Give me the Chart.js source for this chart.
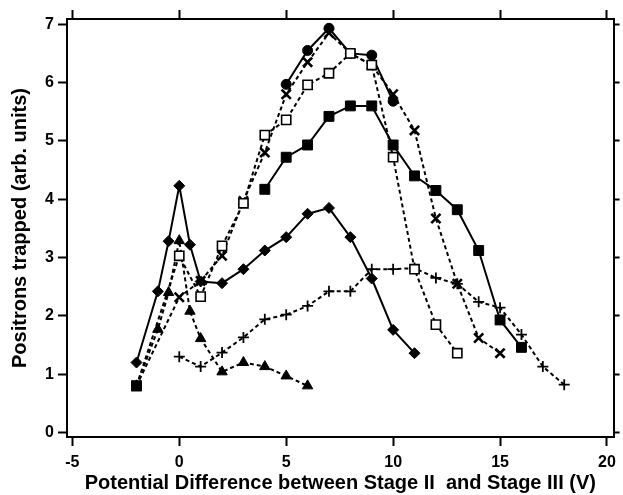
<!DOCTYPE html>
<html>
<head>
<meta charset="utf-8">
<script src="https://cdn.jsdelivr.net/npm/chart.js@4.4.0/dist/chart.umd.min.js"></script>
<style>
  html, body { margin: 0; padding: 0; background: #ffffff; }
  canvas { display: block; }
</style>
</head>
<body>
<canvas id="chart" width="623" height="495"></canvas>
<script>
// Axis ticks and titles
const xTickValues = [-5, 0, 5, 10, 15, 20];
const yTickValues = [0, 1, 2, 3, 4, 5, 6, 7];
const xTitle = 'Potential Difference between Stage II  and Stage III (V)';
const yTitle = 'Positrons trapped (arb. units)';

// Filled diamonds, solid line
const diamondX = [-2, -1, -0.5, 0, 0.5, 1, 2, 3, 4, 5, 6, 7, 8, 9, 10, 11];
const diamondY = [1.2, 2.42, 3.28, 4.23, 3.22, 2.59, 2.56, 2.8, 3.12, 3.35, 3.75, 3.85, 3.35, 2.64, 1.76, 1.36];

// Filled circles, solid line
const circleX = [5, 6, 7, 8, 9, 10];
const circleY = [5.97, 6.55, 6.93, 6.5, 6.47, 5.68];

// Filled squares, solid line (first point stands apart from the rest)
const filledSquareX = [-2, 4, 5, 6, 7, 8, 9, 10, 11, 12, 13, 14, 15, 16];
const filledSquareY = [0.8, 4.17, 4.72, 4.93, 5.42, 5.6, 5.6, 4.93, 4.4, 4.15, 3.82, 3.12, 1.93, 1.46];

// Open squares, dotted line
const openSquareX = [-2, 0, 1, 2, 3, 4, 5, 6, 7, 8, 9, 10, 11, 12, 13];
const openSquareY = [0.8, 3.03, 2.33, 3.2, 3.93, 5.1, 5.36, 5.96, 6.16, 6.5, 6.3, 4.72, 2.8, 1.85, 1.36];

// Crosses, dotted line
const crossX = [-2, 0, 1, 2, 3, 4, 5, 6, 7, 8, 9, 10, 11, 12, 13, 14, 15];
const crossY = [0.8, 2.32, 2.6, 3.03, 3.97, 4.8, 5.8, 6.35, 6.85, 6.5, 6.3, 5.8, 5.18, 3.67, 2.55, 1.62, 1.36];

// Plus signs, dotted line
const plusX = [0, 1, 2, 3, 4, 5, 6, 7, 8, 9, 10, 11, 12, 13, 14, 15, 16, 17, 18];
const plusY = [1.3, 1.13, 1.37, 1.63, 1.94, 2.02, 2.17, 2.42, 2.42, 2.8, 2.8, 2.82, 2.65, 2.55, 2.24, 2.14, 1.68, 1.13, 0.82];

// Filled triangles, dotted line
const triangleX = [-2, -1, -0.5, 0, 0.5, 1, 2, 3, 4, 5, 6];
const triangleY = [0.8, 1.77, 2.4, 3.29, 2.08, 1.61, 1.04, 1.2, 1.13, 0.97, 0.8];

const INK = '#000000';
const DOTS = [4, 3];

function toPoints(xs, ys) {
  return xs.map((x, i) => ({ x: x, y: ys[i] }));
}

function series(xs, ys, style) {
  return Object.assign({
    data: toPoints(xs, ys),
    showLine: true,
    borderColor: INK,
    borderWidth: 2,
    pointBorderColor: INK,
    pointBackgroundColor: INK,
    pointBorderWidth: 1,
    pointHoverRadius: 0,
    fill: false,
    tension: 0
  }, style);
}

const fixedTicks = values => scale => {
  scale.ticks = values.map(v => ({ value: v }));
};

const tickFont = { family: "'Liberation Sans', Arial, Helvetica, sans-serif", size: 16, weight: 'bold' };
const titleFont = { family: "'Liberation Sans', Arial, Helvetica, sans-serif", size: 20, weight: 'bold' };

const xRange = { min: -5.25, max: 20.31 };
const yRange = { min: -0.077, max: 7.09 };

const frameGrid = len => ({
  drawOnChartArea: false,
  drawTicks: true,
  tickLength: len,
  tickWidth: 2,
  tickColor: INK
});
const frameBorder = { display: true, color: INK, width: 2 };

new Chart(document.getElementById('chart'), {
  type: 'scatter',
  data: {
    datasets: [
      series(filledSquareX, filledSquareY, {
        pointStyle: 'rect', pointRadius: 7,
        segment: {
          borderColor: ctx => (ctx.p1.parsed.x - ctx.p0.parsed.x > 2 ? 'rgba(0,0,0,0)' : undefined)
        }
      }),
      series(openSquareX, openSquareY, {
        borderDash: DOTS, pointStyle: 'rect', pointRadius: 6.5,
        pointBackgroundColor: '#ffffff', pointBorderWidth: 1.6
      }),
      series(crossX, crossY, {
        borderDash: DOTS, pointStyle: 'crossRot', pointRadius: 6.5, pointBorderWidth: 2.6
      }),
      series(circleX, circleY, { pointStyle: 'circle', pointRadius: 5 }),
      series(diamondX, diamondY, { pointStyle: 'rectRot', pointRadius: 5.5 }),
      series(plusX, plusY, {
        borderDash: DOTS, pointStyle: 'cross', pointRadius: 5.5, pointBorderWidth: 1.8
      }),
      series(triangleX, triangleY, {
        borderDash: DOTS, pointStyle: 'triangle', pointRadius: 6
      })
    ]
  },
  options: {
    responsive: false,
    animation: false,
    devicePixelRatio: 1,
    layout: { padding: 0 },
    plugins: { legend: { display: false }, tooltip: { enabled: false } },
    events: [],
    scales: {
      x: {
        type: 'linear', position: 'bottom',
        min: xRange.min, max: xRange.max,
        afterBuildTicks: fixedTicks(xTickValues),
        afterFit: s => { s.height = 58; },
        grid: frameGrid(9),
        border: frameBorder,
        ticks: { color: INK, font: tickFont, padding: 7, maxRotation: 0 },
        title: { display: true, text: xTitle, color: INK, font: titleFont, padding: { top: 0, bottom: 0 } }
      },
      xTop: {
        type: 'linear', position: 'top',
        min: xRange.min, max: xRange.max,
        afterBuildTicks: fixedTicks(xTickValues),
        afterFit: s => { s.height = 19; },
        grid: frameGrid(9),
        border: frameBorder,
        ticks: { display: false }
      },
      y: {
        type: 'linear', position: 'left',
        min: yRange.min, max: yRange.max,
        afterBuildTicks: fixedTicks(yTickValues),
        afterFit: s => { s.width = 67; },
        grid: frameGrid(9),
        border: frameBorder,
        ticks: { color: INK, font: tickFont, padding: 4 },
        title: { display: true, text: yTitle, color: INK, font: titleFont, padding: { top: 8, bottom: 0 } }
      },
      yRight: {
        type: 'linear', position: 'right',
        min: yRange.min, max: yRange.max,
        afterBuildTicks: fixedTicks(yTickValues),
        afterFit: s => { s.width = 6; },
        grid: frameGrid(6),
        border: frameBorder,
        ticks: { display: false }
      }
    }
  }
});
</script>
</body>
</html>
